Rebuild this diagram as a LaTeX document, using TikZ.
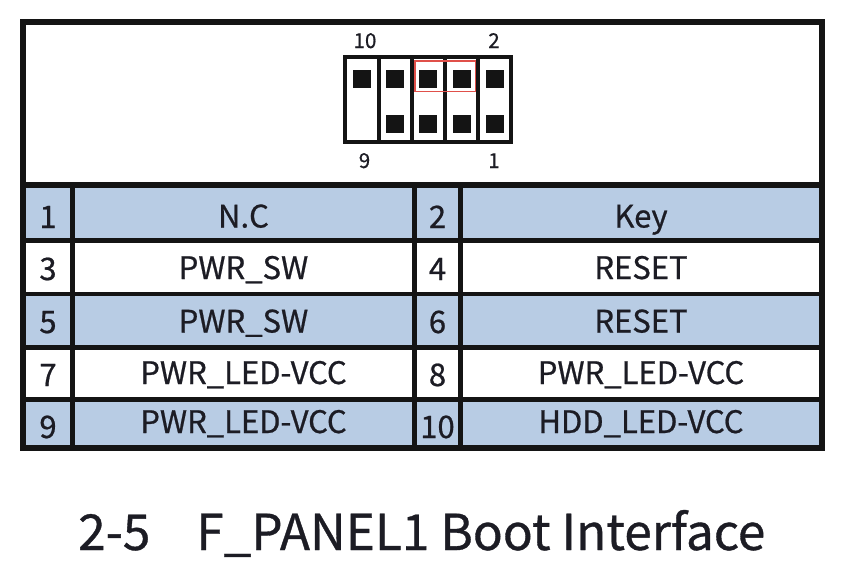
\documentclass[tikz,border=0pt]{standalone}
\usepackage{fontspec}
\setmainfont{Noto Sans CJK SC}[FakeBold=0.7]
\definecolor{cellblue}{HTML}{B8CCE4}
\definecolor{ink}{HTML}{141414}
\definecolor{txt}{HTML}{1C1C24}
\definecolor{pinred}{HTML}{E0504A}
\begin{document}
\begin{tikzpicture}[x=1pt,y=-1pt,
  cell/.style={font=\fontsize{31}{31}\selectfont, text=txt, anchor=base, inner sep=0pt},
  pinlabel/.style={font=\fontsize{20.5}{20.5}\selectfont, text=txt, anchor=base, inner sep=0pt},
  pin/.style={fill=ink, draw=none, minimum size=18pt, inner sep=0pt},
  thick frame/.style={line width=6pt, draw=ink},
  row rule/.style={line width=4.5pt, draw=ink},
  col rule/.style={line width=5.5pt, draw=ink}]
\useasboundingbox (0,0) rectangle (841,579);
\fill[white] (0,0) rectangle (841,579);
% blue rows
\fill[cellblue] (23,185) rectangle (821.5,240.5);
\fill[cellblue] (23,294) rectangle (821.5,347.5);
\fill[cellblue] (23,399.5) rectangle (821.5,448);
% row rules
\foreach \yy in {240.5,294,347.5,399.5} \draw[row rule] (23,\yy) -- (821.5,\yy);
% column rules
\foreach \xx in {72.5,414.5,460.5} \draw[col rule] (\xx,185) -- (\xx,448);
% header rule and frame
\draw[thick frame] (23,185) -- (821.5,185);
\draw[thick frame] (23,21.5) rectangle (821.5,448);
% connector
\draw[line width=4pt, draw=ink] (345.3,57) rectangle (511.3,142);
\foreach \xx in {378.5,411.7,444.9,478.1} \draw[line width=4pt, draw=ink] (\xx,57) -- (\xx,142);
\node[pin] (p10) at (361.9,78.5) {};
\node[pin] (p8) at (395.1,78.5) {};
\node[pin] (p6) at (428.3,78.5) {};
\node[pin] (p4) at (461.5,78.5) {};
\node[pin] (p2) at (494.7,78.5) {};
\node[pin] (p7) at (395.1,124) {};
\node[pin] (p5) at (428.3,124) {};
\node[pin] (p3) at (461.5,124) {};
\node[pin] (p1) at (494.7,124) {};
\draw[pinred, line width=1.2pt] (415,61) rectangle (475.5,91.5);
\node[pinlabel] (l10) at (365,48) {10};
\node[pinlabel] (l2) at (494,48) {2};
\node[pinlabel] (l9) at (364.5,168) {9};
\node[pinlabel] (l1) at (494,168) {1};
% table texts
\node[cell] (n1) at (48,228) {1};
\node[cell] (t1) at (243.5,227.5) {N.C};
\node[cell] (n2) at (437.5,228) {2};
\node[cell] (t2) at (641,227.5) {Key};
\node[cell] (n3) at (48,280) {3};
\node[cell] (t3) at (243.5,279) {PWR\_SW};
\node[cell] (n4) at (437.5,280) {4};
\node[cell] (t4) at (641,279) {RESET};
\node[cell] (n5) at (48,333) {5};
\node[cell] (t5) at (243.5,332.5) {PWR\_SW};
\node[cell] (n6) at (437.5,333) {6};
\node[cell] (t6) at (641,332.5) {RESET};
\node[cell] (n7) at (48,386) {7};
\node[cell] (t7) at (243.5,384) {PWR\_LED-VCC};
\node[cell] (n8) at (437.5,386) {8};
\node[cell] (t8) at (641,384) {PWR\_LED-VCC};
\node[cell] (n9) at (48,438) {9};
\node[cell] (t9) at (243.5,433) {PWR\_LED-VCC};
\node[cell] (n10) at (437.5,438) {10};
\node[cell] (t10) at (641,433) {HDD\_LED-VCC};
% title
\node[font=\fontsize{49.5}{49.5}\selectfont, text=txt, anchor=base west, inner sep=0pt] (title) at (78,550) {2-5\hspace{46pt}F\_PANEL1 Boot Interface};
\end{tikzpicture}
\end{document}
